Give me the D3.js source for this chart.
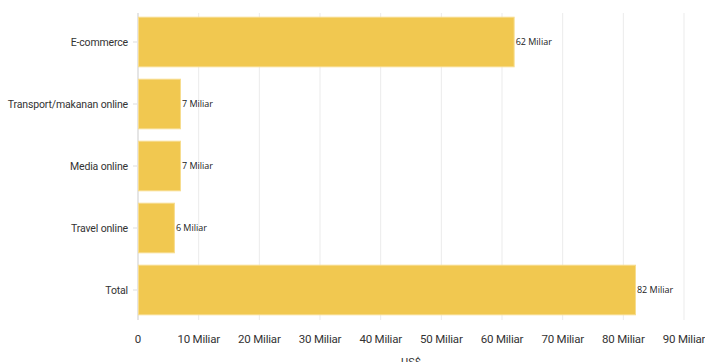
<!DOCTYPE html>
<html>
<head>
<meta charset="utf-8">
<script src="https://cdn.jsdelivr.net/npm/d3@7"></script>
<style>
  body { margin: 0; background: #fff; }
  svg { display: block; font-family: Roboto, sans-serif; }
</style>
</head>
<body>
<div id="chart"></div>
<script>
const categories = ["E-commerce", "Transport/makanan online", "Media online", "Travel online", "Total"];
const values = [62, 7, 7, 6, 82]; // miliar US$
const xTicks = [0, 10, 20, 30, 40, 50, 60, 70, 80, 90];
const xTitle = "US$";

const width = 705, height = 362;
const margin = {top: 11, right: 17, bottom: 41, left: 138};

const svg = d3.select("#chart")
  .append("svg")
  .attr("width", width)
  .attr("height", height);

const x = d3.scaleLinear()
  .domain([0, 90])
  .range([margin.left, 684]);

const y = d3.scaleBand()
  .domain(categories)
  .range([margin.top, height - margin.bottom])
  .paddingInner(0.2)
  .paddingOuter(0.1);

const plotTop = 13, plotBottom = 320;

// vertical grid
svg.append("g")
  .selectAll("line")
  .data(xTicks.slice(1))
  .join("line")
    .attr("x1", d => x(d)).attr("x2", d => x(d))
    .attr("y1", plotTop).attr("y2", plotBottom)
    .attr("stroke", "#ebebeb")
    .attr("stroke-width", 1);

// axis line
svg.append("line")
  .attr("x1", x(0)).attr("x2", x(0))
  .attr("y1", plotTop).attr("y2", plotBottom)
  .attr("stroke", "#dcdcdc")
  .attr("stroke-width", 1.5);

// x tick labels
svg.append("g")
  .selectAll("text")
  .data(xTicks)
  .join("text")
    .attr("x", d => x(d))
    .attr("y", 343)
    .attr("text-anchor", "middle")
    .attr("font-size", 11.5)
    .attr("letter-spacing", -0.2)
    .attr("fill", "#333")
    .text(d => d === 0 ? "0" : d + " Miliar");

svg.append("text")
  .attr("x", (x(0) + x(90)) / 2)
  .attr("y", 366)
  .attr("text-anchor", "middle")
  .attr("font-size", 11)
  .attr("fill", "#333")
  .text(xTitle);

// y ticks + labels
const yAxis = svg.append("g");
yAxis.selectAll("line")
  .data(categories)
  .join("line")
    .attr("x1", x(0) - 5).attr("x2", x(0) - 1)
    .attr("y1", d => y(d) + y.bandwidth() / 2)
    .attr("y2", d => y(d) + y.bandwidth() / 2)
    .attr("stroke", "#ddd");
yAxis.selectAll("text")
  .data(categories)
  .join("text")
    .attr("x", x(0) - 10)
    .attr("y", d => y(d) + y.bandwidth() / 2)
    .attr("dy", "0.35em")
    .attr("text-anchor", "end")
    .attr("font-size", 10.5)
    .attr("letter-spacing", -0.15)
    .attr("fill", "#333")
    .text(d => d);

// bars
svg.append("g")
  .selectAll("rect")
  .data(values)
  .join("rect")
    .attr("x", x(0) + 0.5)
    .attr("y", (d, i) => y(categories[i]))
    .attr("width", d => x(d) - x(0) - 0.5)
    .attr("height", y.bandwidth())
    .attr("fill", "#f1c850")
    .attr("stroke", "#f7dc8e")
    .attr("stroke-width", 1);

// value labels
svg.append("g")
  .selectAll("text")
  .data(values)
  .join("text")
    .attr("x", d => x(d) + 1.5)
    .attr("y", (d, i) => y(categories[i]) + y.bandwidth() / 2)
    .attr("dy", "0.35em")
    .attr("font-family", "'Open Sans', sans-serif")
    .attr("font-size", 9)
    .attr("fill", "#222")
    .text(d => d + " Miliar");
</script>
</body>
</html>
